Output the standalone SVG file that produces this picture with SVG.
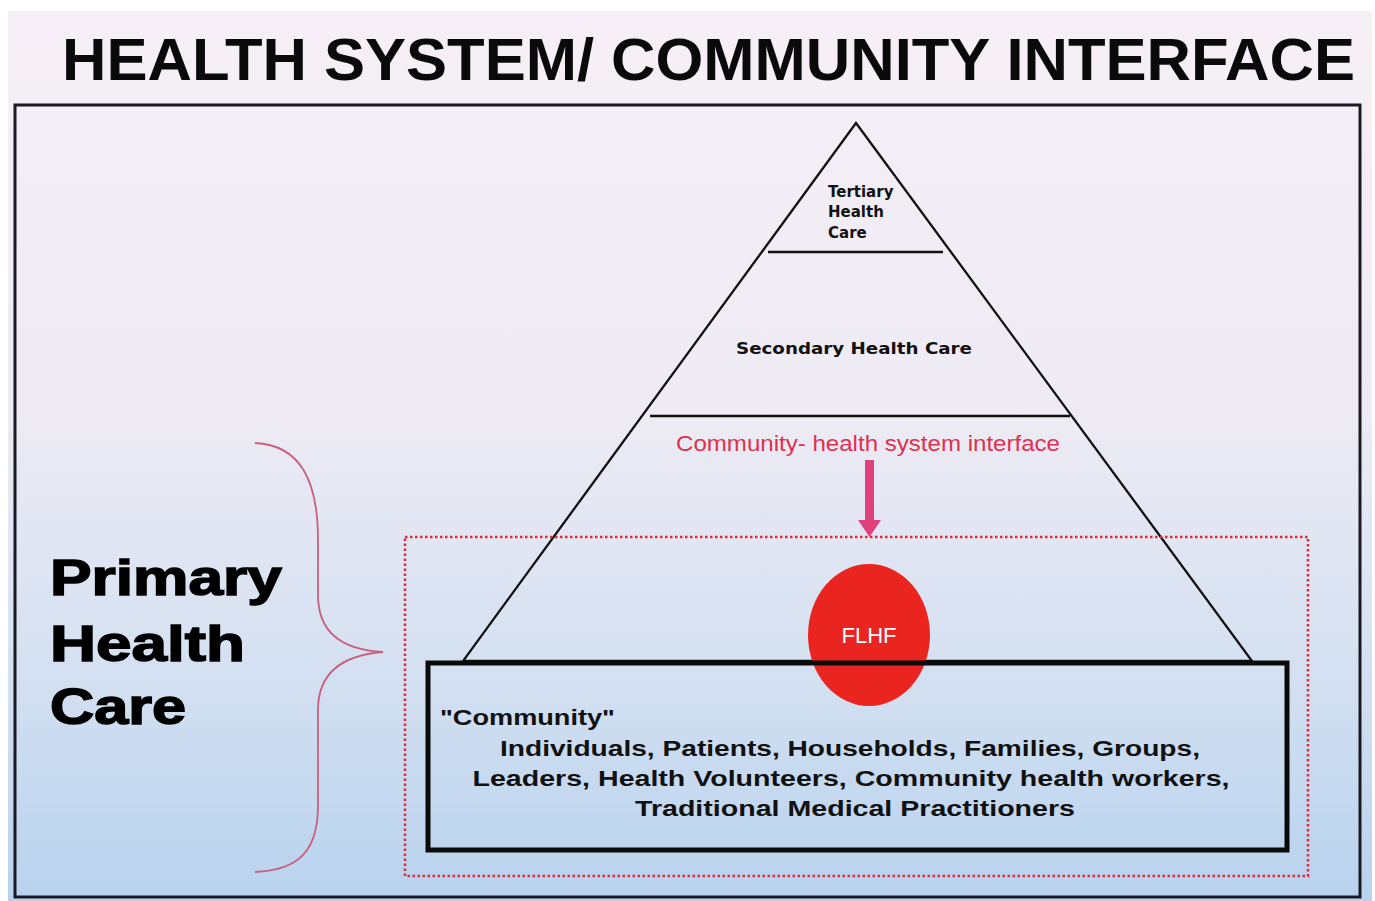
<svg xmlns="http://www.w3.org/2000/svg" width="1375" height="901" viewBox="0 0 1375 901">
<defs>
<linearGradient id="bg" x1="0" y1="0" x2="0" y2="1">
<stop offset="0" stop-color="#f6eff6"/>
<stop offset="0.45" stop-color="#eeebf4"/>
<stop offset="0.75" stop-color="#d3e0f1"/>
<stop offset="1" stop-color="#b8d2ee"/>
</linearGradient>
</defs>
<style>
.b{font-family:"Liberation Sans",Arial,sans-serif;font-weight:bold}
.n{font-family:"Liberation Sans",Arial,sans-serif;font-weight:normal}
.pyr{font-family:"DejaVu Sans",Verdana,sans-serif;font-weight:bold;font-size:15px;fill:#111}
.com{font-family:"Liberation Sans",Arial,sans-serif;font-weight:bold;font-size:22px;fill:#111}
.ln{stroke:#111;stroke-width:2.3;fill:none}
.big{font-family:"Liberation Sans",Arial,sans-serif;font-weight:900;font-size:50px;fill:#000;stroke:#000;stroke-width:1.5}
</style>
<rect x="0" y="0" width="1375" height="901" fill="#ffffff"/>
<rect x="8" y="11" width="1364" height="890" fill="url(#bg)"/>
<text id="title" class="b" x="62" y="80" font-size="60" textLength="1293" lengthAdjust="spacingAndGlyphs" fill="#0a0a0a">HEALTH SYSTEM/ COMMUNITY INTERFACE</text>
<rect id="frame" x="15" y="105" width="1345" height="792" fill="none" stroke="#1a1a22" stroke-width="3"/>
<g id="pyramid">
<polygon points="856,123 463,661 1252,661" class="ln"/>
<line x1="768" y1="252" x2="943" y2="252" class="ln"/>
<line x1="650" y1="416" x2="1070" y2="416" class="ln"/>
</g>
<g id="tertiary">
<text class="pyr" x="828" y="197">Tertiary</text>
<text class="pyr" x="828" y="217">Health</text>
<text class="pyr" x="828" y="238">Care</text>
</g>
<g id="secondary">
<text class="pyr" x="854" y="354" text-anchor="middle" textLength="236" lengthAdjust="spacingAndGlyphs">Secondary Health Care</text>
</g>
<g id="interface">
<text class="n" x="868" y="451" font-size="22" fill="#e0304e" text-anchor="middle" textLength="384" lengthAdjust="spacingAndGlyphs">Community-  health system interface</text>
</g>
<g id="connectors">
<polygon points="865,460 874,460 874,520 881,520 869.5,537 858,520 865,520" fill="#e0407c"/>
</g>
<rect id="primary-zone" x="405" y="537" width="903" height="339" fill="none" stroke="#e02a3a" stroke-width="2.5" stroke-dasharray="2.5,2.5"/>
<g id="flhf">
<ellipse cx="869" cy="635" rx="61" ry="71" fill="#ea2520"/>
<text class="n" x="869" y="643" font-size="22" fill="#ffffff" text-anchor="middle">FLHF</text>
</g>
<g id="community">
<rect x="428" y="663" width="859" height="187" fill="none" stroke="#0a0a0a" stroke-width="5"/>
<text class="com" x="440" y="725" textLength="175" lengthAdjust="spacingAndGlyphs">"Community"</text>
<text class="com" x="850" y="756" text-anchor="middle" textLength="700" lengthAdjust="spacingAndGlyphs">Individuals,  Patients,  Households,  Families,  Groups,</text>
<text class="com" x="851" y="786" text-anchor="middle" textLength="757" lengthAdjust="spacingAndGlyphs">Leaders, Health Volunteers, Community  health workers,</text>
<text class="com" x="855" y="816" text-anchor="middle" textLength="440" lengthAdjust="spacingAndGlyphs">Traditional  Medical  Practitioners</text>
</g>
<g id="primary-care">
<path d="M255,443 C300,445 318,480 318,540 L318,595 C318,635 345,650 383,652 C345,655 318,670 318,710 L318,805 C318,850 300,870 255,872" fill="none" stroke="#c8607e" stroke-width="1.8"/>
<text class="big" x="50" y="595" textLength="232" lengthAdjust="spacingAndGlyphs">Primary</text>
<text class="big" x="50" y="661" textLength="195" lengthAdjust="spacingAndGlyphs">Health</text>
<text class="big" x="50" y="724" textLength="136" lengthAdjust="spacingAndGlyphs">Care</text>
</g>
</svg>
